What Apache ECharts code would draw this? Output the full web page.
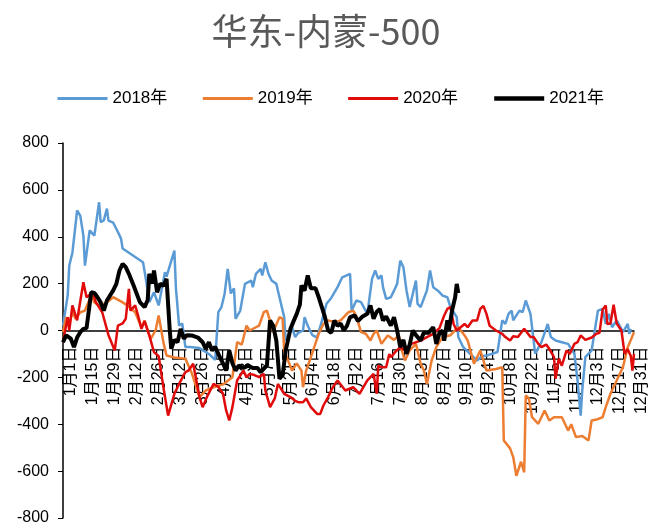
<!DOCTYPE html>
<html lang="zh-CN">

<head>
    <meta charset="UTF-8">
    <title>华东-内蒙-500</title>
    <script src="https://cdn.jsdelivr.net/npm/echarts/dist/echarts.min.js"></script>
    <style>
        body { margin: 0; background: #fff; }
        #container { width: 652px; height: 530px; }
    </style>
</head>

<body>
    <div id="container"></div>
    <script type="text/javascript">
        // 数据：日序号(0=1月1日) 和 对应数值
        var years = ['2018年', '2019年', '2020年', '2021年'];
        var yTicks = [-800, -600, -400, -200, 0, 200, 400, 600, 800];

        var days2018 = [0, 3, 4, 6, 9, 11, 13, 14, 17, 20, 23, 24, 26, 28, 29, 32, 35, 37, 38, 51, 53, 55, 58, 61, 65, 66, 71, 72, 74, 76, 78, 81, 87, 93, 97, 99,
            101, 103, 105, 107, 109, 110, 113, 116, 120, 121, 123, 126, 127, 129, 131, 133, 136, 138, 141, 142, 146, 148, 150, 153, 154, 156, 159, 162, 165,
            168, 171, 175, 178, 183, 184, 187, 190, 194, 197, 199, 201, 203, 204, 206, 209, 211, 213, 215, 217, 219, 221, 225, 226, 228, 232, 234, 236, 239,
            242, 245, 247, 251, 252, 255, 258, 264, 267, 270, 277, 280, 282, 284, 286, 287, 291, 293, 295, 298, 299, 301, 305, 309, 311, 314, 318, 322, 326,
            328, 330, 331, 333, 337, 339, 341, 344, 346, 348, 350, 353, 357, 360, 361, 362];
        var vals2018 = [20, 150, 277, 332, 512, 490, 405, 277, 427, 405, 547, 462, 470, 520, 469, 460, 420, 392, 350, 291, 213, 121, 163, 107, 249, 230, 341, 180, 21, 30, -70, -70, -75, -100, -125, 78,
            100, 156, 263, 158, 180, 50, 85, 199, 213, 185, 242, 263, 235, 291, 242, 213, 199, 142, 57, -43, 14, -28, -10, 0, 57, 20, -20, -30, 40,
            114, 139, 185, 227, 242, 85, 128, 121, 71, 220, 256, 220, 235, 185, 135, 142, 170, 199, 298, 270, 170, 100, 213, 114, 100, 171, 256, 185, 170,
            149, 142, 100, 57, -28, -70, -90, -128, -110, -107, -92, 43, 28, 71, 85, 43, 85, 78, 128, 71, 14, -99, -50, 28, -28, -43, -50, -57, -100,
            -213, -363, -256, -114, -85, 0, 85, 92, 28, 71, 14, 43, -7, 28, -14, 7];

        var days2019 = [0, 2, 4, 6, 8, 11, 14, 18, 20, 23, 27, 32, 38, 41, 46, 50, 52, 55, 56, 59, 61, 64, 66, 71, 78, 82, 87, 91, 96, 102, 108, 111, 114, 117, 119,
            125, 128, 130, 132, 134, 138, 140, 141, 143, 146, 149, 152, 153, 155, 158, 163, 166, 169, 173, 177, 182, 185, 187, 190, 193, 196, 198, 200, 203,
            207, 211, 214, 216, 218, 221, 225, 228, 230, 232, 235, 238, 242, 247, 252, 256, 258, 262, 266, 270, 276, 280, 281, 285, 287, 289, 292, 294, 295,
            297, 299, 303, 307, 310, 313, 318, 322, 324, 327, 331, 335, 337, 340, 344, 346, 349, 352, 357, 360, 362, 364];
        var vals2019 = [-7, 57, 30, 78, 50, 78, 85, 149, 120, 107, 115, 142, 120, 107, 78, 14, 43, -20, -35, 0, 64, -50, -107, -115, -120, -180, -284, -256, -242, -230, -199, -50, -60, 21, 0,
            21, 78, 85, 40, -7, 57, 50, -85, -120, -171, -140, -171, -242, -171, -114, -14, 28, 43, 35, 43, 78, 85, 60, -7, -14, -43, -14, 0, -57,
            -21, -40, -21, -85, -128, -85, -57, -142, -170, -228, -128, -70, -28, -20, 14, -21, -43, -142, -85, -171, -164, -157, -469, -503, -540, -620, -560, -605, -277,
            -290, -370, -398, -341, -384, -370, -370, -427, -400, -455, -450, -469, -384, -380, -370, -327, -270, -227, -156, -71, -40, -7];

        var days2020 = [0, 3, 4, 6, 9, 13, 15, 19, 21, 25, 29, 33, 35, 38, 40, 42, 43, 46, 48, 50, 52, 55, 58, 61, 64, 67, 71, 74, 78, 80, 83, 87, 89, 92, 96, 99,
            102, 104, 106, 108, 111, 115, 117, 119, 122, 125, 128, 129, 132, 135, 137, 141, 145, 148, 150, 153, 155, 158, 162, 164, 166, 169, 172, 175, 180,
            185, 189, 194, 198, 200, 201, 203, 206, 208, 209, 212, 215, 218, 222, 228, 232, 236, 240, 243, 245, 247, 249, 251, 256, 258, 261, 264, 266, 268,
            270, 272, 276, 280, 282, 285, 287, 290, 294, 298, 300, 303, 305, 308, 310, 313, 314, 316, 318, 321, 323, 326, 328, 330, 333, 337, 340, 342, 344,
            346, 347, 349, 351, 353, 356, 358, 360, 362, 363, 364];
        var vals2020 = [-50, 57, 0, 107, 43, 206, 142, 163, 120, 78, -20, -85, 21, 30, 50, 178, 85, 107, 60, 7, 40, -21, -92, -110, -242, -363, -270, -228, -178, -171, -142, -284, -327, -280, -228, -240,
            -270, -341, -384, -327, -213, -171, -200, -185, -190, -199, -185, -256, -327, -290, -228, -270, -284, -300, -306, -306, -290, -327, -356, -356, -320, -284, -242, -213, -256,
            -242, -270, -213, -185, -270, -150, -157, -157, -100, -114, -90, -71, -85, -57, -43, -28, -14, 10, 64, 92, 100, 28, 0, 28, 14, 43, 43, 92, 105,
            70, 20, 0, -14, -28, -43, -25, -28, 7, -28, -28, -57, -71, -60, -78, -114, -206, -120, -150, -85, -100, -57, -50, -21, -40, -30, -14, -10, 90,
            107, 28, 30, 110, 30, 0, -100, -80, -110, -171, -100];

        var days2021 = [0, 2, 5, 7, 9, 11, 13, 15, 18, 20, 22, 24, 26, 28, 32, 34, 36, 38, 40, 42, 45, 49, 52, 54, 55, 57, 58, 60, 62, 64, 66, 68, 69, 71, 73, 75,
            77, 79, 82, 86, 89, 91, 93, 95, 97, 100, 102, 104, 106, 108, 110, 112, 115, 118, 121, 124, 126, 130, 132, 134, 136, 138, 140, 142, 145, 147,
            149, 151, 152, 154, 156, 158, 161, 163, 165, 167, 169, 171, 173, 175, 177, 179, 181, 183, 186, 188, 191, 194, 196, 198, 200, 202, 204, 206,
            209, 211, 213, 215, 217, 219, 221, 223, 225, 228, 230, 233, 236, 238, 240, 242, 243, 245, 246, 248, 250, 251, 252];
        var vals2021 = [-50, -21, -35, -71, -30, -7, 7, 10, 163, 160, 142, 120, 85, 128, 171, 199, 256, 284, 270, 242, 192, 121, 100, 130, 242, 200, 256, 163, 200, 190, 220, 7, -78, -40, -50, 7,
            -35, -20, -21, -30, -50, -78, -50, -85, -70, -114, -140, -171, -85, -140, -171, -150, -160, -150, -160, -160, -178, -149, 43, 20, -43, -206, -190, -85, 7, 40,
            71, 110, 192, 170, 235, 180, 180, 142, 100, 57, 0, -10, 43, 20, 30, 0, 20, 57, 64, 40, 60, 71, 107, 50, 80, 92, 43, 60,
            21, 57, 0, -71, -40, -100, -60, 0, -20, -43, -10, -10, 14, -57, -10, 0, -43, 43, 0, 85, 142, 199, 160];

        var colors = ['#5B9BD5', '#ED7D31', '#E00B0B', '#000000'];
        var widths = [2.5, 2.5, 2.5, 4];

        // x 轴类目：1月1日 ... 12月31日
        var monthDays = [31, 28, 31, 30, 31, 30, 31, 31, 30, 31, 30, 31];
        var categories = [];
        for (var m = 0; m < 12; m++) {
            for (var d = 1; d <= monthDays[m]; d++) {
                categories.push((m + 1) + '月' + d + '日');
            }
        }

        function pairs(days, vals) {
            var out = [];
            for (var i = 0; i < days.length; i++) {
                out.push([days[i], vals[i]]);
            }
            return out;
        }

        var allDays = [days2018, days2019, days2020, days2021];
        var allVals = [vals2018, vals2019, vals2020, vals2021];
        var series = [];
        var legendData = [];
        for (var k = 0; k < years.length; k++) {
            series.push({
                name: years[k],
                type: 'line',
                symbol: 'none',
                data: pairs(allDays[k], allVals[k]),
                lineStyle: { color: colors[k], width: widths[k] },
                itemStyle: { color: colors[k] }
            });
            legendData.push({
                name: years[k],
                lineStyle: { color: colors[k], width: widths[k] + 0.5 }
            });
        }

        // 绘图区：上 143，下 518，0 线在中间
        var gridTop = 143, gridBottom = 12, chartH = 530;
        var plotH = chartH - gridTop - gridBottom;

        var dom = document.getElementById('container');
        var myChart = echarts.init(dom, null, { renderer: 'canvas' });
        var option = {
            animation: false,
            backgroundColor: '#fff',
            title: {
                text: '华东-内蒙-500',
                left: 'center',
                top: 8,
                textStyle: {
                    fontFamily: 'Noto Sans CJK SC',
                    fontSize: 36,
                    fontWeight: 'normal',
                    color: '#595959'
                }
            },
            legend: {
                data: legendData,
                top: 85,
                left: 51,
                itemWidth: 50,
                itemHeight: 14,
                itemGap: 34,
                itemStyle: { opacity: 0 },
                textStyle: {
                    fontFamily: 'Liberation Sans, Noto Sans CJK SC',
                    fontSize: 17,
                    color: '#000'
                }
            },
            grid: {
                left: 63,
                right: 18,
                top: gridTop,
                bottom: gridBottom,
                containLabel: false,
                outerBoundsMode: 'none'
            },
            xAxis: {
                type: 'category',
                data: categories,
                boundaryGap: false,
                position: 'bottom',
                offset: -plotH / 2,
                axisLine: { onZero: false, lineStyle: { color: '#000', width: 1.5 } },
                axisTick: { show: false },
                axisLabel: {
                    interval: 13,
                    rotate: 90,
                    margin: 16,
                    verticalAlign: 'top',
                    fontFamily: 'Liberation Sans, Noto Sans CJK SC',
                    fontSize: 16,
                    color: '#000'
                },
                splitLine: { show: false }
            },
            yAxis: {
                type: 'value',
                min: yTicks[0],
                max: yTicks[yTicks.length - 1],
                interval: 200,
                axisLine: { show: true, lineStyle: { color: '#000', width: 1.5 } },
                axisTick: { show: true, length: 5, lineStyle: { color: '#000' } },
                axisLabel: {
                    margin: 14,
                    fontFamily: 'Liberation Sans',
                    fontSize: 16,
                    color: '#000'
                },
                splitLine: { show: false }
            },
            series: series
        };

        myChart.setOption(option);
    </script>
</body>

</html>
